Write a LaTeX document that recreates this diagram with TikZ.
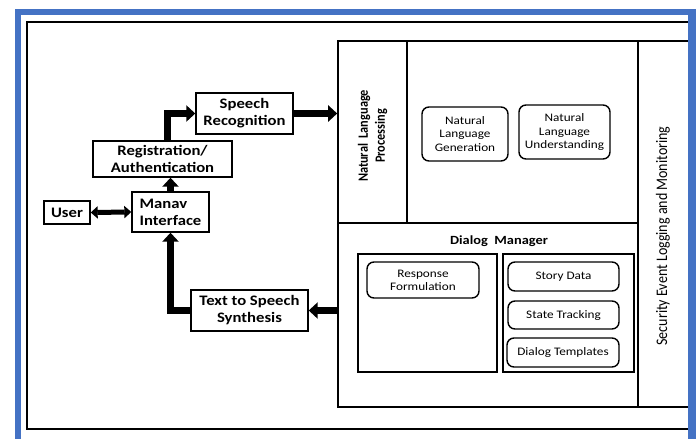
\documentclass[tikz,border=0pt]{standalone}
\usepackage{fontspec}
\setmainfont{Carlito}
\newfontfamily\wide[FakeStretch=1.15]{Carlito}
\usetikzlibrary{arrows.meta}
\definecolor{frameblue}{HTML}{4472C4}
\begin{document}
\begin{tikzpicture}[x=1pt,y=-1pt,
  box/.style={draw, line width=1.4pt, inner sep=0pt, align=center,
    font=\wide\bfseries\fontsize{14.5}{17}\selectfont},
  rbox/.style={draw, rounded corners=7pt, line width=1.4pt, inner sep=0pt, align=center,
    font=\wide\fontsize{11.5}{13.3}\selectfont},
  frame/.style={draw, line width=1.6pt, inner sep=0pt},
  bigarrow/.style={line width=7pt, -{Triangle[length=9pt,width=16pt]}},
  dblarrow/.style={line width=5pt, {Triangle[length=7pt,width=12pt]}-{Triangle[length=7pt,width=12pt]}}
]
\useasboundingbox (0,0) rectangle (696,439);
% outer black frame
\draw[line width=1.3pt] (27,22) rectangle (692,429);

% right structure
\node[frame, minimum width=300, minimum height=182] (nlpreg) at (488,132) {};
\node[frame, minimum width=69, minimum height=182] (nlpbox) at (372.5,132) {};
\node[frame, minimum width=300, minimum height=184] (dm) at (488,315) {};
\node[frame, minimum width=52, minimum height=366] (sec) at (664,224) {};
\node[frame, minimum width=139, minimum height=118] (dmleft) at (427.5,313) {};
\node[frame, minimum width=131, minimum height=118] (dmright) at (568.5,313) {};

\node[rotate=90, font=\bfseries\fontsize{12.3}{14.8}\selectfont] (nlptext) at (373,136)
  {\scalebox{1}[1.15]{\begin{tabular}{@{}c@{}}Natural\ \ Language\\Processing\end{tabular}}};
\node[rotate=90, font=\fontsize{14}{16}\selectfont] (sectext) at (663,236)
  {\scalebox{1}[1.15]{Security Event Logging and Monitoring}};
\node[font=\wide\bfseries\fontsize{12.5}{15}\selectfont] (dmtext) at (499,241) {Dialog\ \ Manager};

\node[rbox, minimum width=86, minimum height=54] (nlg) at (465,134) {Natural\\Language\\Generation};
\node[rbox, minimum width=91, minimum height=54] (nlu) at (564.5,132) {Natural\\Language\\Understanding};
\node[rbox, minimum width=112, minimum height=36] (rf) at (423,280) {Response\\Formulation};
\node[rbox, minimum width=111, minimum height=29] (story) at (563.5,276.5) {Story Data};
\node[rbox, minimum width=111, minimum height=28] (state) at (563.5,315) {State Tracking};
\node[rbox, minimum width=112, minimum height=29] (dt) at (563,352.5) {Dialog Templates};

% left nodes
\node[box, minimum width=46, minimum height=23] (user) at (67,212.5) {User};
\node[box, minimum width=77, minimum height=40, align=left] (manav) at (170.5,212) {Manav\\Interface};
\node[box, minimum width=139, minimum height=36] (reg) at (162.5,159) {Registration/\\Authentication};
\node[box, minimum width=97, minimum height=41] (speech) at (244.5,113.5) {Speech\\Recognition};
\node[box, minimum width=117, minimum height=41] (tts) at (249.5,310.5) {Text to Speech\\Synthesis};

% connectors
\draw[dblarrow] (user.east) -- (manav.west);
\draw[bigarrow] (manav.north) -- (manav.north |- reg.south);
\draw[bigarrow] ([xshift=4.5pt]reg.north) |- (speech.west);
\draw[bigarrow] (speech.east) -- (speech.east -| nlpbox.west);
\draw[bigarrow] (dm.west |- tts.east) -- (tts.east);
\draw[bigarrow] (tts.west) -| (manav.south);

% blue frame
\fill[frameblue] (15,9) rectangle (696,15);
\fill[frameblue] (15,9) rectangle (21,439);
\fill[frameblue] (688,9) rectangle (696,439);
\end{tikzpicture}
\end{document}
